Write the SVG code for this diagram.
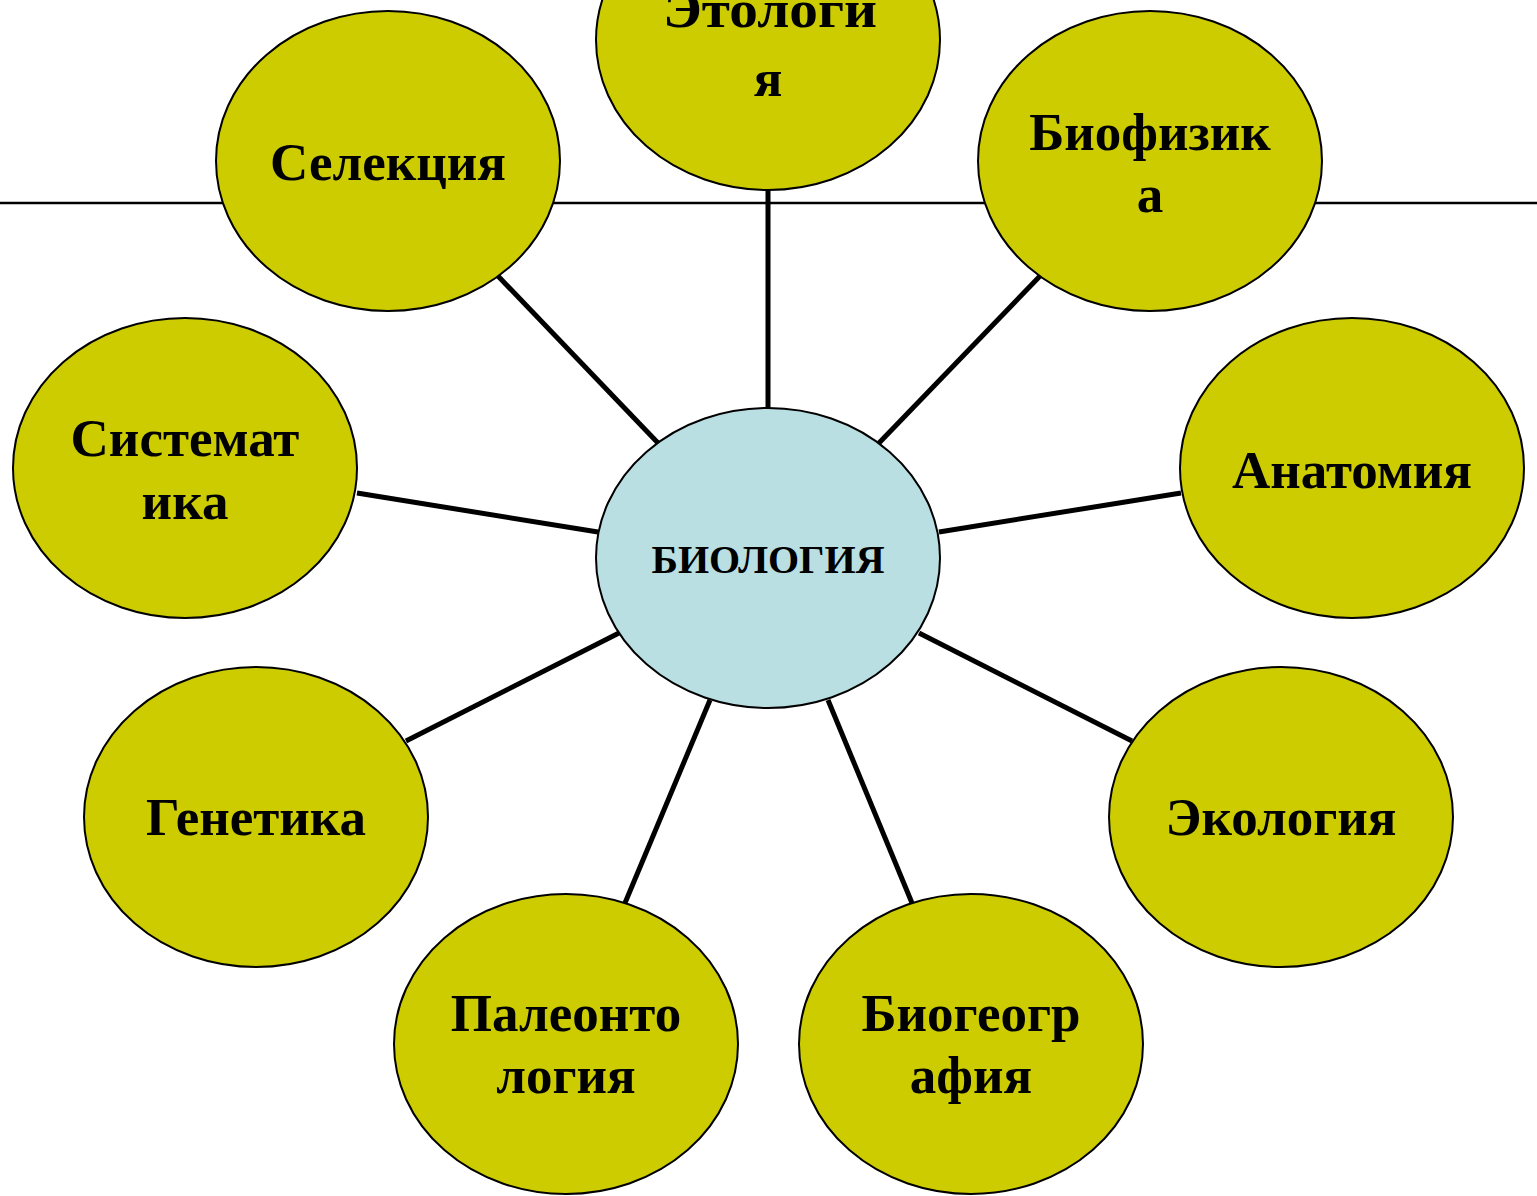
<svg xmlns="http://www.w3.org/2000/svg" width="1537" height="1196" viewBox="0 0 1537 1196">
<style>
.n{fill:#CCCC00;stroke:#000;stroke-width:2}
.c{fill:#B9DFE3;stroke:#000;stroke-width:2}
.t{font-family:"Liberation Serif","Times New Roman",serif;font-weight:bold;font-size:53px;text-anchor:middle;fill:#000}
.tc{font-family:"Liberation Serif","Times New Roman",serif;font-weight:bold;font-size:40px;text-anchor:middle;fill:#000}
.e line{stroke:#000;stroke-width:5}
</style>
<rect width="1537" height="1196" fill="#fff"/>
<line x1="0" y1="203" x2="1537" y2="203" stroke="#000" stroke-width="2.5"/>
<g id="connectors" class="e">
<line x1="768" y1="190" x2="768" y2="408"/>
<line x1="498" y1="276" x2="658" y2="443"/>
<line x1="1040" y1="276" x2="879" y2="443"/>
<line x1="357" y1="493" x2="598" y2="532"/>
<line x1="1181" y1="493" x2="939" y2="532"/>
<line x1="406" y1="741" x2="619" y2="633"/>
<line x1="1132" y1="741" x2="919" y2="633"/>
<line x1="625" y1="903" x2="710" y2="700"/>
<line x1="912" y1="903" x2="828" y2="700"/>
</g>
<g id="biologiya"><ellipse class="c" cx="768" cy="558" rx="172" ry="150"/><text class="tc" x="768" y="573">БИОЛОГИЯ</text></g>
<g id="etologiya"><ellipse class="n" cx="768" cy="40" rx="172" ry="150"/><text class="t" x="770" y="27" textLength="214" lengthAdjust="spacingAndGlyphs">Этологи</text><text class="t" x="768" y="96">я</text></g>
<g id="selekciya"><ellipse class="n" cx="388" cy="161" rx="172" ry="150"/><text class="t" x="388" y="180">Селекция</text></g>
<g id="biofizika"><ellipse class="n" cx="1150" cy="161" rx="172" ry="150"/><text class="t" x="1150" y="150">Биофизик</text><text class="t" x="1150" y="212">а</text></g>
<g id="sistematika"><ellipse class="n" cx="185" cy="468" rx="172" ry="150"/><text class="t" x="185" y="456">Системат</text><text class="t" x="185" y="519">ика</text></g>
<g id="anatomiya"><ellipse class="n" cx="1352" cy="468" rx="172" ry="150"/><text class="t" x="1352" y="488">Анатомия</text></g>
<g id="genetika"><ellipse class="n" cx="256" cy="817" rx="172" ry="150"/><text class="t" x="256" y="835">Генетика</text></g>
<g id="ekologiya"><ellipse class="n" cx="1281" cy="817" rx="172" ry="150"/><text class="t" x="1281" y="835">Экология</text></g>
<g id="paleontologiya"><ellipse class="n" cx="566" cy="1044" rx="172" ry="150"/><text class="t" x="566" y="1031">Палеонто</text><text class="t" x="566" y="1093">логия</text></g>
<g id="biogeografiya"><ellipse class="n" cx="971" cy="1044" rx="172" ry="150"/><text class="t" x="971" y="1031">Биогеогр</text><text class="t" x="971" y="1093">афия</text></g>
</svg>
